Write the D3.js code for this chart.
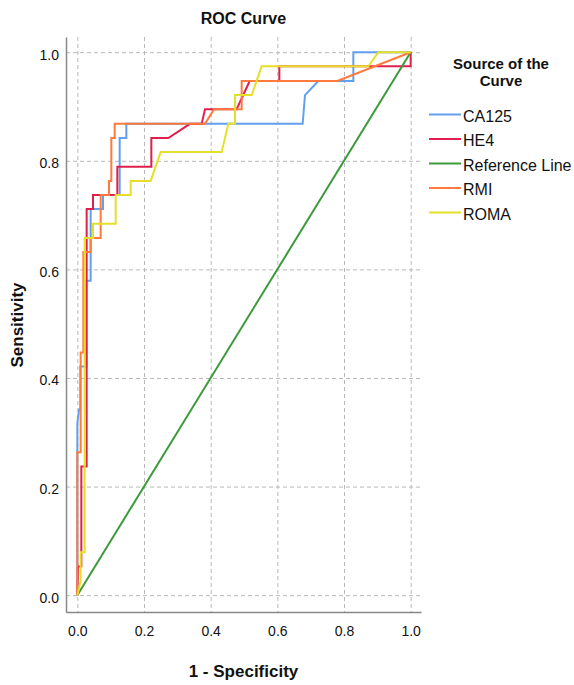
<!DOCTYPE html>
<html>
<head>
<meta charset="utf-8">
<script src="https://cdn.jsdelivr.net/npm/d3@7"></script>
<style>
  body { margin: 0; background: #fff; }
  svg text { font-family: "Liberation Sans", Arial, sans-serif; fill: #111; }
</style>
</head>
<body>
<div id="viz"></div>
<script>
// ROC points, [1 - specificity, sensitivity]
var ca125 = [[0,0],[0,0.316],[0.005,0.342],[0.009,0.342],[0.009,0.421],[0.027,0.421],[0.027,0.579],[0.04,0.579],[0.04,0.711],[0.077,0.711],[0.077,0.737],[0.127,0.737],[0.127,0.842],[0.147,0.842],[0.147,0.868],[0.676,0.868],[0.683,0.921],[0.723,0.947],[0.828,0.947],[0.828,1],[1,1]]
var he4 = [[0,0],[0.002,0.053],[0.012,0.053],[0.012,0.237],[0.028,0.237],[0.028,0.711],[0.047,0.711],[0.047,0.737],[0.12,0.737],[0.12,0.789],[0.222,0.789],[0.222,0.842],[0.273,0.842],[0.338,0.868],[0.373,0.868],[0.383,0.895],[0.478,0.895],[0.517,0.947],[0.606,0.947],[0.606,0.974],[1,0.974],[1,1]]
var refLine = [[0,0],[1,1]]
var rmi = [[0,0],[0,0.263],[0.01,0.263],[0.01,0.447],[0.018,0.447],[0.018,0.632],[0.04,0.632],[0.04,0.658],[0.07,0.658],[0.07,0.737],[0.095,0.737],[0.095,0.763],[0.102,0.763],[0.102,0.842],[0.112,0.842],[0.112,0.868],[0.383,0.868],[0.41,0.895],[0.493,0.895],[0.493,0.947],[0.78,0.947],[1,1]]
var roma = [[0,0],[0.01,0.026],[0.01,0.079],[0.022,0.079],[0.022,0.658],[0.047,0.658],[0.047,0.684],[0.115,0.684],[0.115,0.737],[0.16,0.737],[0.16,0.763],[0.22,0.763],[0.25,0.816],[0.433,0.816],[0.453,0.868],[0.473,0.868],[0.473,0.921],[0.523,0.921],[0.553,0.974],[0.873,0.974],[0.903,1],[1,1]]

var seriesNames = ["CA125", "HE4", "Reference Line", "RMI", "ROMA"]
var seriesData = [ca125, he4, refLine, rmi, roma]
var seriesColors = ["#62a0ee", "#e0204c", "#3c9a3c", "#ff7a3c", "#e6df2a"]
var tickValues = [0, 0.2, 0.4, 0.6, 0.8, 1.0]

var svg = d3.select("#viz")
    .append("svg")
    .attr("width", 574)
    .attr("height", 685)

var x = d3.scaleLinear().domain([-0.034, 1.031]).range([66, 421])
var y = d3.scaleLinear().domain([-0.031, 1.028]).range([612, 37])

// dashed grid
svg.append("g")
    .attr("transform", "translate(0,37)")
    .call(d3.axisBottom(x).tickValues(tickValues).tickSize(575).tickFormat(""))
    .call(g => g.select(".domain").remove())
    .selectAll("line")
    .attr("stroke", "#b8b8b8")
    .attr("stroke-dasharray", "4,3")

svg.append("g")
    .attr("transform", "translate(66,0)")
    .call(d3.axisRight(y).tickValues(tickValues).tickSize(355).tickFormat(""))
    .call(g => g.select(".domain").remove())
    .selectAll("line")
    .attr("stroke", "#b8b8b8")
    .attr("stroke-dasharray", "4,3")

// axes
var xAxis = svg.append("g")
    .attr("transform", "translate(0,612)")
    .call(d3.axisBottom(x).tickValues(tickValues).tickSize(0).tickPadding(14).tickFormat(d3.format(".1f")))
xAxis.select(".domain").attr("stroke", "#888").attr("stroke-width", 1.5)
xAxis.selectAll("text").style("font-size", "14px").attr("fill", "#222")

var yAxis = svg.append("g")
    .attr("transform", "translate(66,0)")
    .call(d3.axisLeft(y).tickValues(tickValues).tickSize(0).tickPadding(7).tickFormat(d3.format(".1f")))
yAxis.select(".domain").attr("stroke", "#888").attr("stroke-width", 1.5)
yAxis.selectAll("text").style("font-size", "14px").attr("fill", "#222").attr("dy", "0.5em")

// curves
var line = d3.line().x(d => x(d[0])).y(d => y(d[1]))

svg.append("g")
    .selectAll("path")
    .data(seriesData)
    .enter()
    .append("path")
    .attr("d", line)
    .attr("fill", "none")
    .attr("stroke", (d, i) => seriesColors[i])
    .attr("stroke-width", 2)

// titles
svg.append("text")
    .attr("x", 243.5).attr("y", 24)
    .attr("text-anchor", "middle")
    .style("font-size", "16px").style("font-weight", "bold")
    .text("ROC Curve")

svg.append("text")
    .attr("x", 243.5).attr("y", 677)
    .attr("text-anchor", "middle")
    .style("font-size", "17px").style("font-weight", "bold")
    .text("1 - Specificity")

svg.append("text")
    .attr("transform", "translate(23,325) rotate(-90)")
    .attr("text-anchor", "middle")
    .style("font-size", "17px").style("font-weight", "bold")
    .text("Sensitivity")

// legend
var legend = svg.append("g")

legend.append("text")
    .attr("x", 501).attr("y", 69)
    .attr("text-anchor", "middle")
    .style("font-size", "15px").style("font-weight", "bold")
    .text("Source of the")

legend.append("text")
    .attr("x", 501).attr("y", 86)
    .attr("text-anchor", "middle")
    .style("font-size", "15px").style("font-weight", "bold")
    .text("Curve")

var item = legend.selectAll("g.item")
    .data(seriesNames)
    .enter()
    .append("g")
    .attr("class", "item")
    .attr("transform", (d, i) => "translate(0," + (121.5 + i * 24.5) + ")")

item.append("line")
    .attr("x1", 429).attr("x2", 461)
    .attr("y1", -7).attr("y2", -7)
    .attr("stroke", (d, i) => seriesColors[i])
    .attr("stroke-width", 2)

item.append("text")
    .attr("x", 463)
    .style("font-size", "16px")
    .attr("fill", "#222")
    .text(d => d)
</script>
</body>
</html>
